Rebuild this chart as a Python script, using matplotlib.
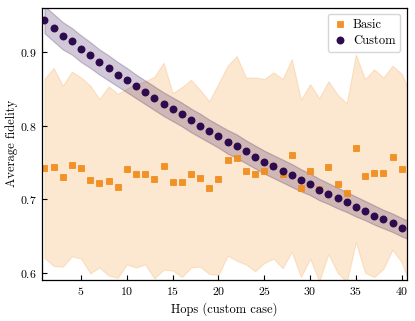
import numpy as np
import matplotlib
matplotlib.use("Agg")
from matplotlib import pyplot as plt

plt.rcParams['font.family'] = ['cmr10', 'DejaVu Serif']
plt.rcParams['mathtext.fontset'] = 'cm'
plt.rcParams['axes.formatter.use_mathtext'] = True

# hops 1..40 for the points, the bands carry one extra hop (41)
hops = list(range(1, 41))
band_hops = list(range(1, 42))

basic = [0.742, 0.744, 0.731, 0.747, 0.743, 0.727, 0.722, 0.725, 0.717, 0.741,
         0.735, 0.735, 0.728, 0.745, 0.724, 0.723, 0.735, 0.729, 0.716, 0.728,
         0.753, 0.756, 0.739, 0.734, 0.738, 0.745, 0.735, 0.760, 0.715, 0.738,
         0.714, 0.744, 0.721, 0.709, 0.770, 0.732, 0.736, 0.736, 0.757, 0.741]
basic_hi = [0.863, 0.878, 0.854, 0.873, 0.865, 0.854, 0.836, 0.853, 0.843, 0.850,
            0.856, 0.860, 0.866, 0.885, 0.844, 0.852, 0.862, 0.848, 0.833, 0.857,
            0.881, 0.894, 0.865, 0.865, 0.863, 0.872, 0.863, 0.890, 0.835, 0.856,
            0.837, 0.860, 0.842, 0.830, 0.896, 0.863, 0.876, 0.865, 0.881, 0.870,
            0.843]
basic_lo = [0.621, 0.610, 0.609, 0.623, 0.620, 0.600, 0.608, 0.597, 0.594, 0.612,
            0.608, 0.612, 0.593, 0.605, 0.604, 0.595, 0.608, 0.609, 0.599, 0.598,
            0.624, 0.617, 0.612, 0.603, 0.614, 0.620, 0.607, 0.629, 0.595, 0.620,
            0.589, 0.626, 0.601, 0.588, 0.642, 0.601, 0.595, 0.606, 0.632, 0.615,
            0.582]

custom = [0.943, 0.932, 0.921, 0.914, 0.904, 0.895, 0.886, 0.878, 0.869, 0.861,
          0.853, 0.845, 0.837, 0.829, 0.822, 0.815, 0.807, 0.800, 0.792, 0.786,
          0.778, 0.772, 0.765, 0.758, 0.751, 0.745, 0.739, 0.733, 0.726, 0.721,
          0.713, 0.708, 0.702, 0.696, 0.690, 0.685, 0.678, 0.673, 0.668, 0.662]
custom_hi = [0.962, 0.951, 0.940, 0.932, 0.922, 0.913, 0.903, 0.895, 0.886, 0.878,
             0.869, 0.861, 0.853, 0.845, 0.838, 0.831, 0.823, 0.816, 0.808, 0.801,
             0.794, 0.788, 0.780, 0.773, 0.766, 0.760, 0.754, 0.748, 0.741, 0.735,
             0.728, 0.722, 0.716, 0.710, 0.704, 0.698, 0.692, 0.686, 0.681, 0.675,
             0.669]
custom_lo = [0.925, 0.914, 0.903, 0.896, 0.886, 0.878, 0.869, 0.861, 0.853, 0.845,
             0.837, 0.829, 0.821, 0.813, 0.806, 0.799, 0.791, 0.784, 0.777, 0.770,
             0.762, 0.756, 0.749, 0.742, 0.735, 0.729, 0.723, 0.717, 0.711, 0.706,
             0.699, 0.694, 0.688, 0.683, 0.677, 0.672, 0.666, 0.661, 0.656, 0.650,
             0.645]

orange = '#f28c1c'
purple = '#2e0a4f'

fig = plt.figure(figsize=(4.15, 3.21), dpi=100)
ax = fig.add_axes([0.1005, 0.1277, 0.8795, 0.8483])

ax.fill_between(band_hops, basic_lo, basic_hi, color=orange, alpha=0.2, lw=0.8)
ax.fill_between(band_hops, custom_lo, custom_hi, color=purple, alpha=0.22, lw=0.9)
ax.plot(hops, basic, 's', color=orange, ms=4.6, alpha=0.95, mec=orange, mew=0.6,
        label='Basic')
ax.plot(hops, custom, 'o', color=purple, ms=5.7, mew=0, label='Custom')

ax.set_xlim(0.7, 40.55)
ax.set_ylim(0.591, 0.9595)
ax.set_xticks([5, 10, 15, 20, 25, 30, 35, 40])
ax.set_yticks([0.6, 0.7, 0.8, 0.9])
ax.tick_params(direction='in', length=3.5, width=0.8, labelsize=8.5)
ax.set_xlabel("Hops (custom case)", fontsize=9)
ax.set_ylabel("Average fidelity", fontsize=9, labelpad=1.5)
for s in ax.spines.values():
    s.set_linewidth(0.9)

ax.legend(loc='upper right', fontsize=9, handletextpad=0.4, borderpad=0.4,
          labelspacing=0.3, handlelength=1.2)

plt.savefig("out.png", dpi=100)
